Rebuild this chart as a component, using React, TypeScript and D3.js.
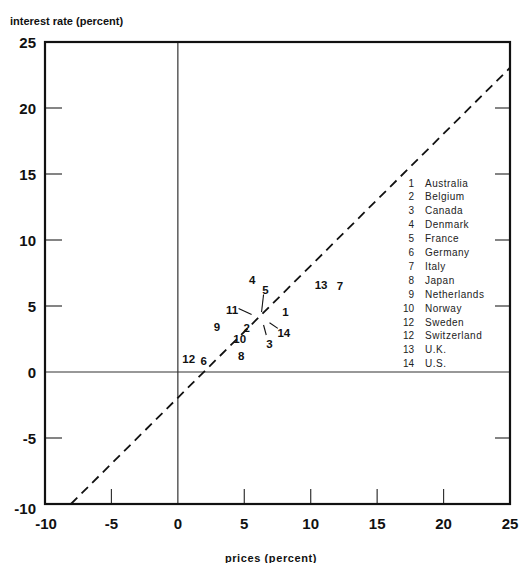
import React from "react";
import * as d3 from "d3";

// ---- data ----
const countryIds = ["1", "2", "3", "4", "5", "6", "7", "8", "9", "10", "11", "12", "13", "14"];
const prices = [8.1, 5.19, 6.45, 5.6, 6.3, 1.94, 12.21, 4.77, 2.94, 4.65, 5.55, 0.82, 10.78, 6.9];
const interestRates = [4.57, 3.31, 3.56, 6.97, 4.55, 0.83, 6.52, 1.23, 3.39, 2.5, 4.36, 0.96, 6.59, 3.73];

const legendNumbers = ["1", "2", "3", "4", "5", "6", "7", "8", "9", "10", "12", "12", "13", "14"];
const legendNames = [
  "Australia", "Belgium", "Canada", "Denmark", "France", "Germany", "Italy",
  "Japan", "Netherlands", "Norway", "Sweden", "Switzerland", "U.K.", "U.S.",
];

const xTicks = [-10, -5, 0, 5, 10, 15, 20, 25];
const yTicks = [25, 20, 15, 10, 5, 0, -5, -10];
const refLineX = [-8.05, 25];
const refLineIntercept = -1.95;

// layout for labels with leader lines (pixel offsets from the point)
const leaderLayout: Record<string, { label: [number, number]; start: [number, number] }> = {
  "11": { label: [-19.5, -4.5], start: [-13, -6] },
  "5": { label: [4, -22], start: [2, -17.5] },
  "3": { label: [6, 19], start: [2.7, 10] },
  "14": { label: [14.3, 10.6], start: [8.3, 5.6] },
};

const W = 523;
const H = 563;
const L = 45, R = 510, T = 42, B = 504;
const font = "'Liberation Sans', Arial, Helvetica, sans-serif";

export default function App() {
  const x = d3.scaleLinear().domain([-10, 25]).range([L, R]);
  const y = d3.scaleLinear().domain([-10, 25]).range([B, T]);
  const line = d3.line<number>().x((d) => x(d)).y((d) => y(d + refLineIntercept));

  return (
    <svg
      width={W}
      height={H}
      style={{ position: "absolute", left: 0, top: 0, background: "#fff" }}
      fontFamily={font}
    >
      {/* axis titles */}
      <text x={10} y={25} fontSize={11} fontWeight="bold" fill="#111">
        interest rate  (percent)
      </text>
      <text x={271} y={562} fontSize={11} fontWeight="bold" fill="#111" textAnchor="middle" letterSpacing={0.6}>
        prices  (percent)
      </text>

      {/* zero lines */}
      <line x1={x(0)} x2={x(0)} y1={T} y2={B} stroke="#333" strokeWidth={1.2} />
      <line x1={L} x2={R} y1={y(0)} y2={y(0)} stroke="#333" strokeWidth={1.2} />

      {/* ticks */}
      {yTicks.filter((t) => t !== 25 && t !== -10 && t !== 0).map((t) => (
        <g key={"yt" + t}>
          <line x1={L} x2={L + 17} y1={y(t)} y2={y(t)} stroke="#333" strokeWidth={1.2} />
          <line x1={R - 15} x2={R} y1={y(t)} y2={y(t)} stroke="#333" strokeWidth={1.2} />
        </g>
      ))}
      {xTicks.filter((t) => t !== -10 && t !== 25 && t !== 0).map((t) => (
        <line key={"xt" + t} x1={x(t)} x2={x(t)} y1={B} y2={B - 15} stroke="#333" strokeWidth={1.2} />
      ))}

      {/* frame */}
      <rect x={L} y={T} width={R - L} height={B - T} fill="none" stroke="#111" strokeWidth={2.2} />

      {/* tick labels */}
      {yTicks.map((t) => (
        <text
          key={"yl" + t}
          x={36}
          y={t === -10 ? y(t) + 4 : y(t)}
          fontSize={15}
          fontWeight="bold"
          textAnchor="end"
          dominantBaseline="central"
          fill="#111"
        >
          {t}
        </text>
      ))}
      {xTicks.map((t) => (
        <text
          key={"xl" + t}
          x={x(t) + (t === -10 ? 1 : 0)}
          y={523}
          fontSize={15}
          fontWeight="bold"
          textAnchor="middle"
          dominantBaseline="central"
          fill="#111"
        >
          {t}
        </text>
      ))}

      {/* reference dashed line */}
      <path d={line(refLineX) || ""} fill="none" stroke="#111" strokeWidth={1.8} strokeDasharray="9,6" />

      {/* country labels */}
      {countryIds.map((id, i) => {
        const px = x(prices[i]);
        const py = y(interestRates[i]);
        const lay = leaderLayout[id];
        const lx = lay ? px + lay.label[0] : px;
        const ly = lay ? py + lay.label[1] : py;
        return (
          <g key={"c" + id}>
            {lay && (
              <line x1={px + lay.start[0]} y1={py + lay.start[1]} x2={px} y2={py} stroke="#111" strokeWidth={1.1} />
            )}
            <text x={lx} y={ly} fontSize={11.5} fontWeight="bold" textAnchor="middle" dominantBaseline="central" fill="#111">
              {id}
            </text>
          </g>
        );
      })}

      {/* legend */}
      {legendNames.map((name, i) => (
        <g key={"lg" + i}>
          <text x={414} y={183 + i * 13.9} fontSize={10} textAnchor="end" dominantBaseline="central" fill="#222">
            {legendNumbers[i]}
          </text>
          <text x={425} y={183 + i * 13.9} fontSize={10} letterSpacing={0.5} dominantBaseline="central" fill="#222">
            {name}
          </text>
        </g>
      ))}
    </svg>
  );
}
